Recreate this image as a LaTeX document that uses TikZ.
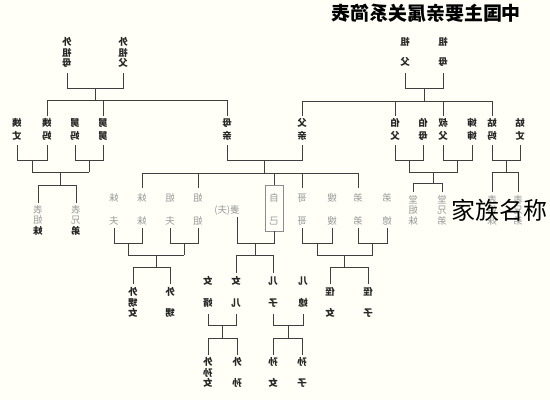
\documentclass[tikz,border=0pt]{standalone}
\usepackage{fontspec}
\newfontfamily\cjk{Noto Sans CJK SC}
\usetikzlibrary{calc}
\newcommand\rv[1]{\reflectbox{#1}}
\newcommand\tc[3]{\rv{#1}\\[#3]\rv{#2}}
\newcommand\thc[3]{\rv{#1}\\\rv{#2}\\\rv{#3}}
\newcommand\couple[6]{%
  \draw[ln] (#1|-#3) -- (#1|-#4) -- (#2|-#4) -- (#2|-#3);
  \coordinate (#6) at ($(#1|-#5)!.5!(#2|-#5)$);
  \draw[ln] ($(#1|-#4)!.5!(#2|-#4)$) -- (#6);}
\begin{document}
\begin{tikzpicture}[x=1pt,y=-1pt,
  ln/.style={draw=black!75,line width=0.7pt},
  kin/.style={align=center,inner sep=0pt,text=black!85,font=\cjk\bfseries\fontsize{9.5}{10.5}\selectfont},
  pale/.style={kin,text=black!40,font=\cjk\fontsize{9.5}{10.5}\selectfont}]
\fill[white!97!yellow] (0,0) rectangle (550,400);
\useasboundingbox (0,0) rectangle (550,400);
% level coordinates
\foreach \v in {73,88,100,101,116,145,160,172,173,183,185,188,192,203,228,243,255,267,273,284,314,325,338,355}
  {\coordinate (h\v) at (0,\v);}
% title
\node[inner sep=0pt,font=\cjk\bfseries\fontsize{19}{19}\selectfont] (title) at (426,13) {\rv{中国主要亲属关系简表}};
% grandparents
\node[kin] (wzm) at (67,52.5) {\thc{外}{祖}{母}};
\node[kin] (wzf) at (123,52.5) {\thc{外}{祖}{父}};
\node[kin] (zf) at (405,52) {\tc{祖}{父}{9.5pt}};
\node[kin] (zm) at (443,52) {\tc{祖}{母}{9.5pt}};
% second row
\foreach \n/\x/\a/\b in {yz/17/姨/丈, ym/47/姨/妈, jm/75/舅/妈, jj/103/舅/舅, mq/227/母/亲, fq/302/父/亲,
  bf/395/伯/父, bm/423/伯/母, sf/443/叔/父, ss/472/婶/婶, gm/492/姑/妈, gz/520/姑/丈}
  {\node[kin] (\n) at (\x,129.5) {\tc{\a}{\b}{2.5pt}};}
% self row
\foreach \n/\x/\a/\b in {mf/114/妹/夫, mm/142/妹/妹, jf/170/姐/夫, jjie/198/姐/姐,
  gg/302/哥/哥, sao/332/嫂/嫂, dd/358/弟/弟, dx/387/弟/媳}
  {\node[pale] (\n) at (\x,209.5) {\tc{\a}{\b}{12.5pt}};}
\node[pale] (qi) at (227,210) {\rv{妻(夫)}};
\coordinate (qx) at (237,217);
\node[pale] (zjt) at (274,209.5) {\tc{自}{己}{12.5pt}};
\node[draw=black!45,line width=0.6pt,minimum width=18pt,minimum height=46pt,inner sep=0pt] (zj) at (274,208) {};
\node[pale] (bjm1) at (38,220) {\rv{表}\\\rv{姐}\\\textcolor{black!85}{\bfseries\rv{妹}}};
\node[pale] (bxd1) at (76,220) {\rv{表}\\\rv{兄}\\\textcolor{black!85}{\bfseries\rv{弟}}};
\node[pale] (tjm) at (413,210) {\thc{堂}{姐}{妹}};
\node[pale] (txd) at (442,210) {\thc{堂}{兄}{弟}};
\node[pale] (bjm2) at (492,210) {\thc{表}{姐}{妹}};
\node[pale] (bxd2) at (518,210) {\thc{表}{兄}{弟}};
% children row
\foreach \n/\x/\a/\b in {nx/208/女/婿, ne/236/女/儿, ez/273/儿/子, ex/303/儿/媳}
  {\node[kin] (\n) at (\x,292) {\tc{\a}{\b}{11pt}};}
\node[kin] (wsn) at (133,302.5) {\thc{外}{甥}{女}};
\node[kin] (ws) at (170,302.5) {\tc{外}{甥}{10.5pt}};
\node[kin] (zn) at (330,302.5) {\tc{侄}{女}{10.5pt}};
\node[kin] (zz) at (368,302.5) {\tc{侄}{子}{10.5pt}};
% grandchildren
\node[kin] (wsn2) at (208,372.5) {\thc{外}{孙}{女}};
\node[kin] (ws2) at (237,372.5) {\tc{外}{孙}{10.5pt}};
\node[kin] (sn) at (273,372.5) {\tc{孙}{女}{10.5pt}};
\node[kin] (sz) at (302,372.5) {\tc{孙}{子}{10.5pt}};
% ---- connectors ----
\couple{wzm}{wzf}{h73}{h88}{h100}{g1}
\couple{zf}{zm}{h73}{h88}{h101}{g2}
\draw[ln] (ym|-h100) -- (mq|-h100);
\foreach \n in {ym,jj,mq} {\draw[ln] (\n|-h100) -- (\n|-h116);}
\draw[ln] (fq|-h101) -- (gm|-h101);
\foreach \n in {fq,bf,sf,gm} {\draw[ln] (\n|-h101) -- (\n|-h116);}
% maternal aunts/uncles
\couple{yz}{ym}{h145}{h160}{h172}{c1}
\couple{jm}{jj}{h145}{h160}{h172}{c2}
\draw[ln] (c1) -- (c2);
\coordinate (c12) at ($(c1)!.5!(c2)$);
\draw[ln] (c12) -- (c12|-h185);
\draw[ln] (bjm1|-h185) -- (bxd1|-h185);
\foreach \n in {bjm1,bxd1} {\draw[ln] (\n|-h185) -- (\n|-h203);}
% parents
\couple{mq}{fq}{h145}{h160}{h173}{c3}
\draw[ln] (mm|-h173) -- (dd|-h173);
\foreach \n in {mm,jjie,gg,dd} {\draw[ln] (\n|-h173) -- (\n|-h188);}
\draw[ln] (zj.north|-h173) -- (zj.north);
% paternal aunts/uncles
\couple{bf}{bm}{h145}{h160}{h172}{c4}
\couple{sf}{ss}{h145}{h160}{h172}{c5}
\draw[ln] (c4) -- (c5);
\coordinate (c45) at ($(c4)!.5!(c5)$);
\draw[ln] (c45) -- (c45|-h183);
\draw[ln] (tjm|-h183) -- (txd|-h183);
\foreach \n in {tjm,txd} {\draw[ln] (\n|-h183) -- (\n|-h192);}
\couple{gm}{gz}{h145}{h160}{h172}{c6}
\draw[ln] (bjm2|-h172) -- (bxd2|-h172);
\foreach \n in {bjm2,bxd2} {\draw[ln] (\n|-h172) -- (\n|-h192);}
% sisters
\couple{mf}{mm}{h228}{h243}{h255}{c7}
\couple{jf}{jjie}{h228}{h243}{h255}{c8}
\draw[ln] (c7) -- (c8);
\coordinate (c78) at ($(c7)!.5!(c8)$);
\draw[ln] (c78) -- (c78|-h267);
\draw[ln] (wsn|-h267) -- (ws|-h267);
\foreach \n in {wsn,ws} {\draw[ln] (\n|-h267) -- (\n|-h284);}
% self and spouse
\draw[ln] (qx) -- (qx|-h243) -- (zj.south|-h243) -- (zj.south);
\coordinate (cs) at ($(qx|-h243)!.5!(zj.south|-h243)$);
\draw[ln] (cs) -- (cs|-h255);
\draw[ln] (ne|-h255) -- (ez|-h255);
\foreach \n in {ne,ez} {\draw[ln] (\n|-h255) -- (\n|-h273);}
% brothers
\couple{gg}{sao}{h228}{h243}{h255}{c9}
\couple{dd}{dx}{h228}{h243}{h255}{c10}
\draw[ln] (c9) -- (c10);
\coordinate (c910) at ($(c9)!.5!(c10)$);
\draw[ln] (c910) -- (c910|-h267);
\draw[ln] (zn|-h267) -- (zz|-h267);
\foreach \n in {zn,zz} {\draw[ln] (\n|-h267) -- (\n|-h284);}
% children
\couple{nx}{ne}{h314}{h325}{h338}{c11}
\draw[ln] (wsn2|-h338) -- (ws2|-h338);
\foreach \n in {wsn2,ws2} {\draw[ln] (\n|-h338) -- (\n|-h355);}
\couple{ez}{ex}{h314}{h325}{h338}{c12}
\draw[ln] (sn|-h338) -- (sz|-h338);
\foreach \n in {sn,sz} {\draw[ln] (\n|-h338) -- (\n|-h355);}
% overlay caption
\node[inner sep=0pt,font=\cjk\fontsize{24}{24}\selectfont,text=black] (cap) at (499,210) {家族名称};
\end{tikzpicture}
\end{document}
